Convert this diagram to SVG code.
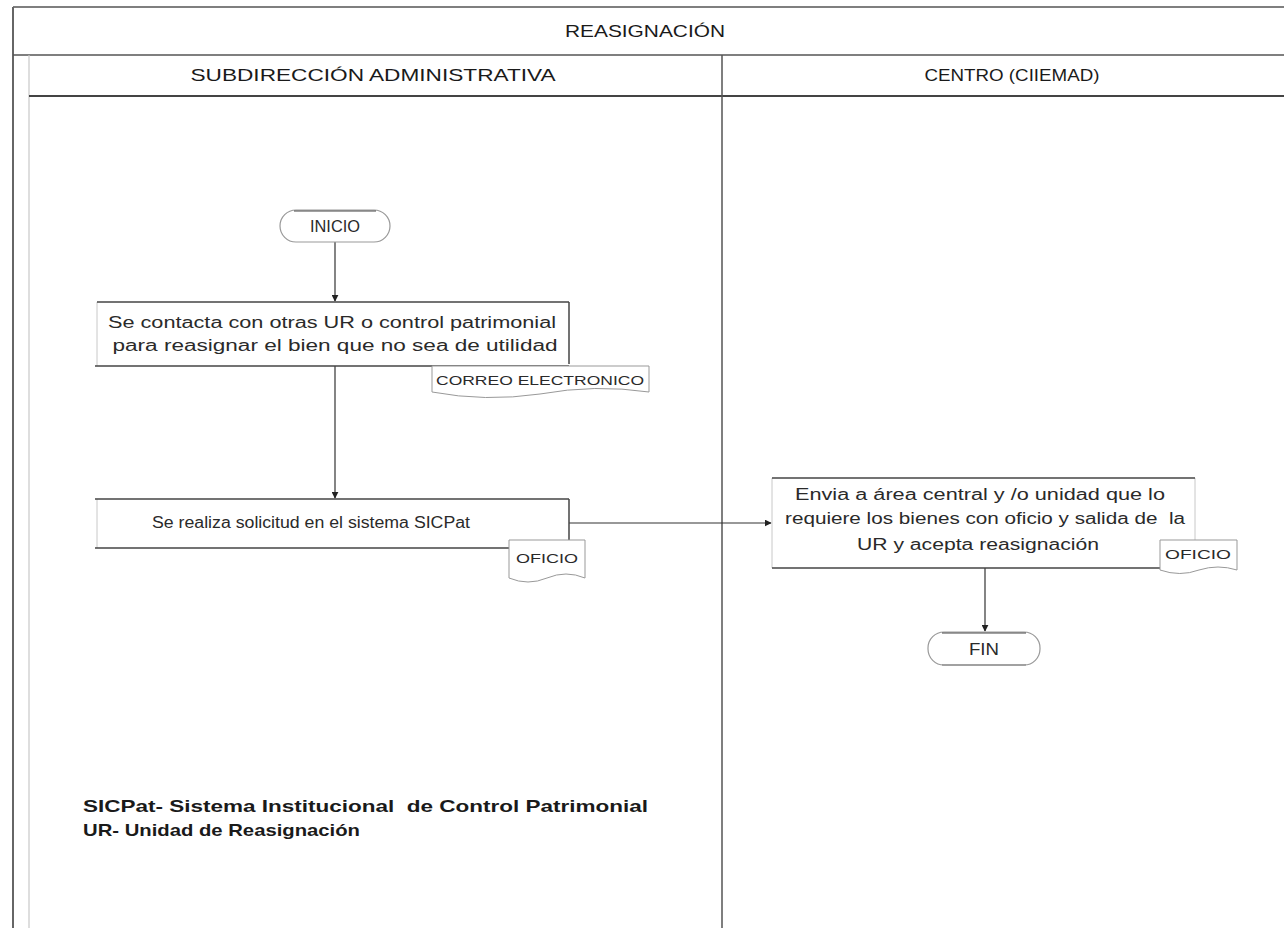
<svg xmlns="http://www.w3.org/2000/svg" width="1284" height="928" viewBox="0 0 1284 928">
<style>
.t{font-family:"Liberation Sans",Arial,sans-serif;fill:#2a2a2a}
.h{font-family:"Liberation Sans",Arial,sans-serif;fill:#1a1a1a;font-size:17px}
.p{font-size:16px}
.d{font-size:13px}
.f{font-family:"Liberation Sans",Arial,sans-serif;fill:#1a1a1a;font-size:17px;font-weight:bold}
.pre{white-space:pre}
.dark{stroke:#444;stroke-width:1.5;fill:none}
.lite{stroke:#c8c8c8;stroke-width:1;fill:none}
.doc{stroke:#999;stroke-width:1;fill:#fff}
.term{stroke:#999;stroke-width:1.2;fill:#fff}
.con{stroke:#333;stroke-width:1.2;fill:none;marker-end:url(#ah)}
</style>
<defs>
<marker id="ah" viewBox="0 0 10 10" refX="9" refY="5" markerWidth="7" markerHeight="7" orient="auto" markerUnits="userSpaceOnUse">
<path d="M0,0 L10,5 L0,10 z" fill="#222"/>
</marker>
</defs>
<rect width="1284" height="928" fill="#fff"/>
<g id="frame">
<line x1="13" y1="7" x2="1284" y2="7" stroke="#555" stroke-width="1.5"/>
<line x1="13" y1="7" x2="13" y2="928" stroke="#666" stroke-width="2"/>
<line x1="13" y1="55" x2="1284" y2="55" stroke="#555" stroke-width="1.5"/>
<line x1="29" y1="55" x2="29" y2="928" stroke="#c8c8c8" stroke-width="1.2"/>
<line x1="29" y1="96" x2="1284" y2="96" stroke="#444" stroke-width="2"/>
<line x1="722" y1="55" x2="722" y2="928" stroke="#555" stroke-width="1.5"/>
<text class="h" x="645" y="37" text-anchor="middle" textLength="160" lengthAdjust="spacingAndGlyphs">REASIGNACIÓN</text>
<text class="h" x="373" y="81" text-anchor="middle" textLength="365" lengthAdjust="spacingAndGlyphs">SUBDIRECCIÓN ADMINISTRATIVA</text>
<text class="h" x="1012" y="81" text-anchor="middle" textLength="175" lengthAdjust="spacingAndGlyphs">CENTRO (CIIEMAD)</text>
</g>
<g id="connectors">
<line class="con" x1="335" y1="242" x2="335" y2="301"/>
<line class="con" x1="335" y1="366" x2="335" y2="498"/>
<line class="con" x1="569" y1="523" x2="771" y2="523"/>
<line class="con" x1="985" y1="568" x2="985" y2="631"/>
</g>
<g id="inicio">
<rect class="term" x="280" y="210" width="110" height="32" rx="16"/>
<line x1="294" y1="211" x2="376" y2="211" stroke="#444" stroke-width="1.2"/>
<text class="t p" x="335" y="232" text-anchor="middle" textLength="50" lengthAdjust="spacingAndGlyphs">INICIO</text>
</g>
<g id="proceso1">
<line class="lite" x1="97" y1="302" x2="97" y2="366"/>
<line class="dark" x1="97" y1="302" x2="569" y2="302" stroke="#888" stroke-width="1"/>
<line class="dark" x1="569" y1="302" x2="569" y2="364"/>
<line class="dark" x1="95" y1="366" x2="569" y2="366"/>
<text class="t p" x="332" y="328" text-anchor="middle" textLength="448" lengthAdjust="spacingAndGlyphs">Se contacta con otras UR o control patrimonial</text>
<text class="t p" x="335" y="351" text-anchor="middle" textLength="445" lengthAdjust="spacingAndGlyphs">para reasignar el bien que no sea de utilidad</text>
</g>
<g id="doc1">
<path class="doc" d="M432,366 H649 V392 Q595,384 540,394 Q485,402 432,392 Z"/>
<text class="t d" x="540" y="385" text-anchor="middle" textLength="208" lengthAdjust="spacingAndGlyphs">CORREO ELECTRONICO</text>
</g>
<g id="proceso2">
<line class="lite" x1="97" y1="499" x2="97" y2="548"/>
<line class="dark" x1="95" y1="499" x2="569" y2="499"/>
<line class="dark" x1="569" y1="499" x2="569" y2="540"/>
<line class="dark" x1="95" y1="548" x2="509" y2="548"/>
<text class="t p" x="311" y="528" text-anchor="middle" textLength="318" lengthAdjust="spacingAndGlyphs">Se realiza solicitud en el sistema SICPat</text>
</g>
<g id="doc2">
<path class="doc" d="M509,540 H585 V578 Q566,570 547,578 Q528,586 509,578 Z"/>
<text class="t d" x="547" y="563" text-anchor="middle" textLength="62" lengthAdjust="spacingAndGlyphs">OFICIO</text>
</g>
<g id="proceso3">
<line class="lite" x1="772" y1="478" x2="772" y2="568"/>
<line class="lite" x1="1195" y1="478" x2="1195" y2="540"/>
<line class="dark" x1="772" y1="478" x2="1195" y2="478"/>
<line class="dark" x1="772" y1="568" x2="1160" y2="568"/>
<text class="t p" x="980" y="500" text-anchor="middle" textLength="370" lengthAdjust="spacingAndGlyphs">Envia a área central y /o unidad que lo</text>
<text class="t p pre" x="985" y="524" text-anchor="middle" textLength="400" lengthAdjust="spacingAndGlyphs">requiere los bienes con oficio y salida de  la</text>
<text class="t p" x="978" y="550" text-anchor="middle" textLength="242" lengthAdjust="spacingAndGlyphs">UR y acepta reasignación</text>
</g>
<g id="doc3">
<path class="doc" d="M1160,540 H1237 V570 Q1218,564 1199,570 Q1180,577 1160,570 Z"/>
<text class="t d" x="1198" y="559" text-anchor="middle" textLength="66" lengthAdjust="spacingAndGlyphs">OFICIO</text>
</g>
<g id="fin">
<rect class="term" x="928" y="632" width="112" height="33" rx="16"/>
<line x1="942" y1="633" x2="1026" y2="633" stroke="#444" stroke-width="1.2"/>
<line x1="942" y1="665" x2="1026" y2="665" stroke="#777" stroke-width="1"/>
<text class="t p" x="984" y="655" text-anchor="middle" textLength="30" lengthAdjust="spacingAndGlyphs">FIN</text>
</g>
<g id="notas">
<text class="f pre" x="83" y="812" textLength="565" lengthAdjust="spacingAndGlyphs">SICPat- Sistema Institucional  de Control Patrimonial</text>
<text class="f" x="83" y="836" textLength="277" lengthAdjust="spacingAndGlyphs">UR- Unidad de Reasignación</text>
</g>
</svg>
